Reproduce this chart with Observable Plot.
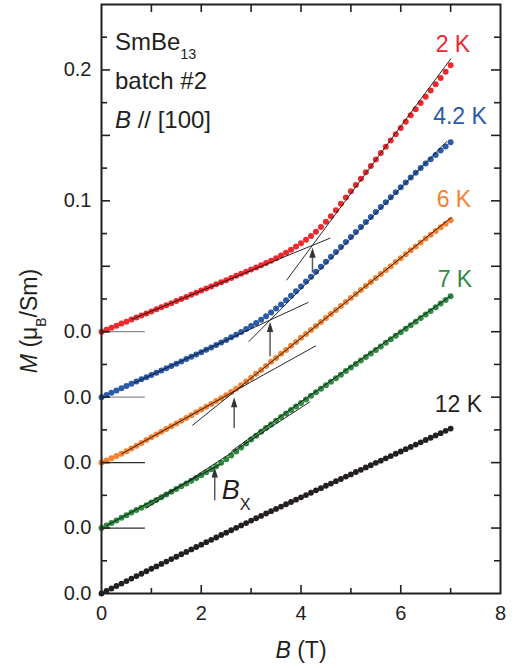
<!DOCTYPE html>
<html>
<head>
<meta charset="utf-8">
<script src="https://cdn.jsdelivr.net/npm/d3@7"></script>
<script src="https://cdn.jsdelivr.net/npm/@observablehq/plot@0.6"></script>
<style>
  body { margin: 0; background: #fff; }
  svg { display: block; }
</style>
</head>
<body>
<div id="chart"></div>
<script>
// Magnetisation of SmBe13 (batch #2, B // [100]) versus field, in muB/Sm.
// Field grid of the sweeps, 0 to 7 T in 0.1 T steps.
const field = d3.range(71).map(i => i / 10);

const m2K = [
  0.0000, 0.0015, 0.0031, 0.0046, 0.0062, 0.0077, 0.0093, 0.0108, 0.0124, 0.0140,
  0.0155, 0.0171, 0.0187, 0.0202, 0.0218, 0.0234, 0.0250, 0.0266, 0.0282, 0.0298,
  0.0314, 0.0330, 0.0346, 0.0362, 0.0378, 0.0394, 0.0410, 0.0427, 0.0443, 0.0459,
  0.0475, 0.0491, 0.0508, 0.0525, 0.0543, 0.0562, 0.0582, 0.0604, 0.0627, 0.0651,
  0.0676, 0.0702, 0.0731, 0.0764, 0.0800, 0.0840, 0.0883, 0.0929, 0.0977, 0.1025,
  0.1073, 0.1121, 0.1169, 0.1218, 0.1267, 0.1316, 0.1365, 0.1413, 0.1461, 0.1509,
  0.1557, 0.1605, 0.1653, 0.1700, 0.1747, 0.1795, 0.1843, 0.1891, 0.1939, 0.1987,
  0.2035
];
const m4K = [
  0.0000, 0.0017, 0.0034, 0.0051, 0.0068, 0.0085, 0.0102, 0.0119, 0.0136, 0.0153,
  0.0170, 0.0187, 0.0204, 0.0221, 0.0238, 0.0256, 0.0273, 0.0291, 0.0308, 0.0326,
  0.0344, 0.0362, 0.0380, 0.0399, 0.0418, 0.0437, 0.0457, 0.0477, 0.0498, 0.0520,
  0.0543, 0.0567, 0.0592, 0.0619, 0.0647, 0.0677, 0.0708, 0.0741, 0.0775, 0.0810,
  0.0846, 0.0883, 0.0920, 0.0958, 0.0996, 0.1034, 0.1072, 0.1110, 0.1148, 0.1186,
  0.1224, 0.1262, 0.1300, 0.1338, 0.1376, 0.1414, 0.1452, 0.1490, 0.1528, 0.1566,
  0.1604, 0.1641, 0.1678, 0.1714, 0.1750, 0.1785, 0.1818, 0.1851, 0.1884, 0.1916,
  0.1948
];
const m6K = [
  0.0000, 0.0016, 0.0033, 0.0050, 0.0068, 0.0087, 0.0108, 0.0129, 0.0150, 0.0172,
  0.0193, 0.0214, 0.0235, 0.0256, 0.0277, 0.0299, 0.0320, 0.0341, 0.0362, 0.0384,
  0.0405, 0.0426, 0.0448, 0.0470, 0.0492, 0.0515, 0.0539, 0.0564, 0.0591, 0.0619,
  0.0648, 0.0678, 0.0708, 0.0739, 0.0770, 0.0800, 0.0831, 0.0861, 0.0892, 0.0922,
  0.0953, 0.0983, 0.1014, 0.1044, 0.1075, 0.1105, 0.1136, 0.1166, 0.1197, 0.1227,
  0.1258, 0.1288, 0.1319, 0.1349, 0.1380, 0.1410, 0.1441, 0.1471, 0.1501, 0.1532,
  0.1562, 0.1592, 0.1622, 0.1652, 0.1682, 0.1712, 0.1741, 0.1770, 0.1798, 0.1825,
  0.1852
];
const m7K = [
  0.0000, 0.0019, 0.0038, 0.0058, 0.0078, 0.0098, 0.0118, 0.0137, 0.0156, 0.0175,
  0.0195, 0.0215, 0.0236, 0.0257, 0.0278, 0.0299, 0.0320, 0.0341, 0.0362, 0.0383,
  0.0404, 0.0426, 0.0449, 0.0473, 0.0499, 0.0526, 0.0555, 0.0585, 0.0615, 0.0646,
  0.0677, 0.0706, 0.0735, 0.0764, 0.0792, 0.0820, 0.0848, 0.0875, 0.0902, 0.0929,
  0.0956, 0.0983, 0.1010, 0.1037, 0.1064, 0.1091, 0.1118, 0.1145, 0.1172, 0.1199,
  0.1226, 0.1253, 0.1280, 0.1307, 0.1334, 0.1361, 0.1388, 0.1415, 0.1442, 0.1469,
  0.1496, 0.1523, 0.1550, 0.1577, 0.1604, 0.1631, 0.1659, 0.1687, 0.1715, 0.1743,
  0.1771
];
const m12K = [
  0.0000, 0.0019, 0.0038, 0.0057, 0.0076, 0.0095, 0.0114, 0.0133, 0.0151, 0.0170,
  0.0189, 0.0207, 0.0226, 0.0244, 0.0263, 0.0281, 0.0300, 0.0318, 0.0337, 0.0355,
  0.0373, 0.0392, 0.0410, 0.0428, 0.0447, 0.0465, 0.0483, 0.0502, 0.0520, 0.0538,
  0.0557, 0.0575, 0.0593, 0.0611, 0.0629, 0.0646, 0.0664, 0.0682, 0.0699, 0.0717,
  0.0735, 0.0752, 0.0770, 0.0788, 0.0805, 0.0823, 0.0840, 0.0858, 0.0875, 0.0893,
  0.0910, 0.0928, 0.0945, 0.0963, 0.0980, 0.0998, 0.1015, 0.1033, 0.1050, 0.1068,
  0.1085, 0.1103, 0.1120, 0.1138, 0.1155, 0.1173, 0.1190, 0.1208, 0.1225, 0.1243,
  0.1260
];

const temps   = ["2 K", "4.2 K", "6 K", "7 K", "12 K"];
const series  = [m2K, m4K, m6K, m7K, m12K];
const colors  = ["#ec2a2e", "#2a5aa8", "#f5822f", "#2f8a42", "#231f20"];
// each curve is shifted upward so the sweeps do not overlap
const offsets = [0.20, 0.15, 0.10, 0.05, 0.00];

// straight low-field / high-field lines: temperature, start (B, M), end (B, M)
const fitLines = [
  {T: "2 K",   B1: 0.60, M1: 0.0094, B2: 4.59, M2: 0.0716},
  {T: "2 K",   B1: 3.71, M1: 0.0393, B2: 7.01, M2: 0.2089},
  {T: "4.2 K", B1: 0.65, M1: 0.0108, B2: 4.15, M2: 0.0725},
  {T: "4.2 K", B1: 2.95, M1: 0.0423, B2: 6.93, M2: 0.1956},
  {T: "6 K",   B1: 0.40, M1: 0.0066, B2: 4.30, M2: 0.0893},
  {T: "6 K",   B1: 1.82, M1: 0.0284, B2: 7.02, M2: 0.1875},
  {T: "7 K",   B1: 0.10, M1: 0.0019, B2: 2.40, M2: 0.0491},
  {T: "7 K",   B1: 0.89, M1: 0.0150, B2: 4.18, M2: 0.0965},
  {T: "7 K",   B1: 2.60, M1: 0.0586, B2: 7.00, M2: 0.1774}
];

// crossover field B_X marked by an arrow: temperature, field, arrow foot and tip (M)
const crossovers = [
  {T: "2 K",   B: 4.23, from: 0.0449, to: 0.0642},
  {T: "4.2 K", B: 3.38, from: 0.0309, to: 0.0574},
  {T: "6 K",   B: 2.66, from: 0.0261, to: 0.0500},
  {T: "7 K",   B: 2.27, from: 0.0208, to: 0.0463}
];

// curve labels
const curveLabels = [
  {T: "2 K",   B: 6.70, M: 0.414},
  {T: "4.2 K", B: 6.65, M: 0.3587},
  {T: "6 K",   B: 6.72, M: 0.2954},
  {T: "7 K",   B: 6.74, M: 0.2343},
  {T: "12 K",  B: 6.68, M: 0.1386}
];
const sampleNotes = [
  {text: "SmBe_{13}",      B: 0.27, M: 0.4154},
  {text: "batch #2",       B: 0.27, M: 0.3856},
  {text: "*B* // [100]",   B: 0.27, M: 0.3557}
];

// axis ticks and tick labels
const xTickLabels = [0, 2, 4, 6, 8];
const xMajor = [2, 4, 6];
const xMinor = [1, 3, 5, 7];
const yTickValues = [0, 0.05, 0.10, 0.15, 0.20, 0.30, 0.40];
const yTickText   = ["0.0", "0.0", "0.0", "0.0", "0.0", "0.1", "0.2"];
const yMajor = d3.range(1, 9).map(i => i * 0.05);
const yMinor = d3.range(0, 9).map(i => i * 0.05 + 0.025);

const colorOf  = new Map(temps.map((t, i) => [t, colors[i]]));
const offsetOf = new Map(temps.map((t, i) => [t, offsets[i]]));

const points = temps.flatMap((t, i) =>
  series[i].map((m, j) => ({T: t, B: field[j], M: m, y: m + offsetOf.get(t)}))
);
const baselines = temps.slice(0, 4).map(t => ({T: t, y: offsetOf.get(t)}));

// narrow filled arrow head, tip at the anchor point
const arrowHead = {
  draw(context) {
    context.moveTo(0, 0);
    context.lineTo(3.2, 10);
    context.lineTo(-3.2, 10);
    context.closePath();
  }
};

const W = 517, H = 668, ML = 101, MR = 17, MT = 4, MB = 75;
const innerW = W - ML - MR, innerH = H - MT - MB;
const ink = "#231f20";

const chart = Plot.plot({
  width: W, height: H,
  marginLeft: ML, marginRight: MR, marginTop: MT, marginBottom: MB,
  x: {domain: [0, 8], axis: null},
  y: {domain: [0, 0.45], axis: null},
  style: {
    fontFamily: "'Liberation Sans', Arial, Helvetica, sans-serif",
    background: "#fff",
    overflow: "visible",
    color: ink
  },
  marks: [
    // zero level of each shifted curve
    Plot.ruleY(baselines, {
      y: "y", x1: 0, x2: 0.88, strokeWidth: 1.3,
      stroke: d => (d.T === "2 K" || d.T === "4.2 K") ? "#8c8c8c" : "#2a2a2a"
    }),
    // measured points
    Plot.dot(points, {
      x: "B", y: "y", r: d => d.T === "12 K" ? 1.7 : 1.8,
      fill: d => colorOf.get(d.T), stroke: "none"
    }),
    // low- and high-field straight lines
    Plot.link(fitLines, {
      x1: "B1", y1: d => d.M1 + offsetOf.get(d.T),
      x2: "B2", y2: d => d.M2 + offsetOf.get(d.T),
      stroke: "#111", strokeWidth: 0.9
    }),
    // crossover arrows
    Plot.ruleX(crossovers, {
      x: "B", y1: d => d.from + offsetOf.get(d.T), y2: d => d.to + offsetOf.get(d.T) - 0.004,
      stroke: "#5a5a5a", strokeWidth: 1.5
    }),
    Plot.dot(crossovers, {
      x: "B", y: d => d.to + offsetOf.get(d.T),
      symbol: arrowHead, fill: "#333", stroke: "none"
    }),
    // inward ticks on all four sides
    Plot.ruleX(xMajor, {x: d => d, insetTop: innerH - 8, stroke: ink, strokeWidth: 1.6}),
    Plot.ruleX(xMinor, {x: d => d, insetTop: innerH - 5, stroke: ink, strokeWidth: 1.6}),
    Plot.ruleX(xMajor, {x: d => d, insetBottom: innerH - 8, stroke: ink, strokeWidth: 1.6}),
    Plot.ruleX(xMinor, {x: d => d, insetBottom: innerH - 8, stroke: ink, strokeWidth: 1.6}),
    Plot.ruleY(yMajor, {y: d => d, insetRight: innerW - 9, stroke: ink, strokeWidth: 1.6}),
    Plot.ruleY(yMinor, {y: d => d, insetRight: innerW - 6, stroke: ink, strokeWidth: 1.6}),
    Plot.ruleY(yMajor, {y: d => d, insetLeft: innerW - 9, stroke: ink, strokeWidth: 1.6}),
    Plot.ruleY(yMinor, {y: d => d, insetLeft: innerW - 6, stroke: ink, strokeWidth: 1.6}),
    Plot.frame({stroke: ink, strokeWidth: 2}),
    // tick labels
    Plot.text(xTickLabels, {
      x: d => d, text: d => String(d), frameAnchor: "bottom",
      lineAnchor: "top", dy: 12, fontSize: 20, fill: ink
    }),
    Plot.text(yTickValues, {
      y: d => d, text: (d, i) => yTickText[i], frameAnchor: "left",
      textAnchor: "end", dx: -10, fontSize: 20, fill: ink
    }),
    // axis titles
    Plot.text(["*B* (T)"], {
      frameAnchor: "bottom", dy: 57, lineAnchor: "middle", fontSize: 23, fill: ink
    }),
    Plot.text(["*M* (μ_{B}/Sm)"], {
      frameAnchor: "left", dx: -72, dy: 22, rotate: -90,
      lineAnchor: "middle", textAnchor: "middle", fontSize: 23, fill: ink
    }),
    // sample description
    Plot.text(sampleNotes, {
      x: "B", y: "M", text: "text", textAnchor: "start", lineAnchor: "bottom",
      fontSize: 24, fill: ink
    }),
    // temperature of each curve
    Plot.text(curveLabels, {
      x: "B", y: "M", text: "T", textAnchor: "start", lineAnchor: "bottom",
      fontSize: 23, fill: d => colorOf.get(d.T)
    }),
    // crossover field label
    Plot.text(["*B*_{X}"], {
      x: 2.41, y: 0.0721, textAnchor: "start", lineAnchor: "bottom",
      fontSize: 27, fill: ink
    })
  ]
});

document.getElementById("chart").appendChild(chart);

// turn *…* into italics and _{…} into subscripts
function richText(svg) {
  const ns = "http://www.w3.org/2000/svg";
  svg.querySelectorAll("text").forEach(t => {
    const s = t.textContent;
    if (!/\*|_\{/.test(s)) return;
    const size = parseFloat(getComputedStyle(t).fontSize);
    const parts = s.split(/(\*[^*]+\*|_\{[^}]+\})/).filter(p => p);
    t.textContent = "";
    let shift = 0;
    for (const p of parts) {
      const span = document.createElementNS(ns, "tspan");
      if (p.startsWith("_{")) {
        span.textContent = p.slice(2, -1);
        span.setAttribute("font-size", (size * 0.6).toFixed(1));
        shift = size * 0.4;
        span.setAttribute("dy", shift.toFixed(1));
      } else {
        if (p.startsWith("*")) {
          span.textContent = p.slice(1, -1);
          span.setAttribute("font-style", "italic");
        } else {
          span.textContent = p;
        }
        if (shift) { span.setAttribute("dy", (-shift).toFixed(1)); shift = 0; }
      }
      t.appendChild(span);
    }
  });
}
richText(chart);
</script>
</body>
</html>
